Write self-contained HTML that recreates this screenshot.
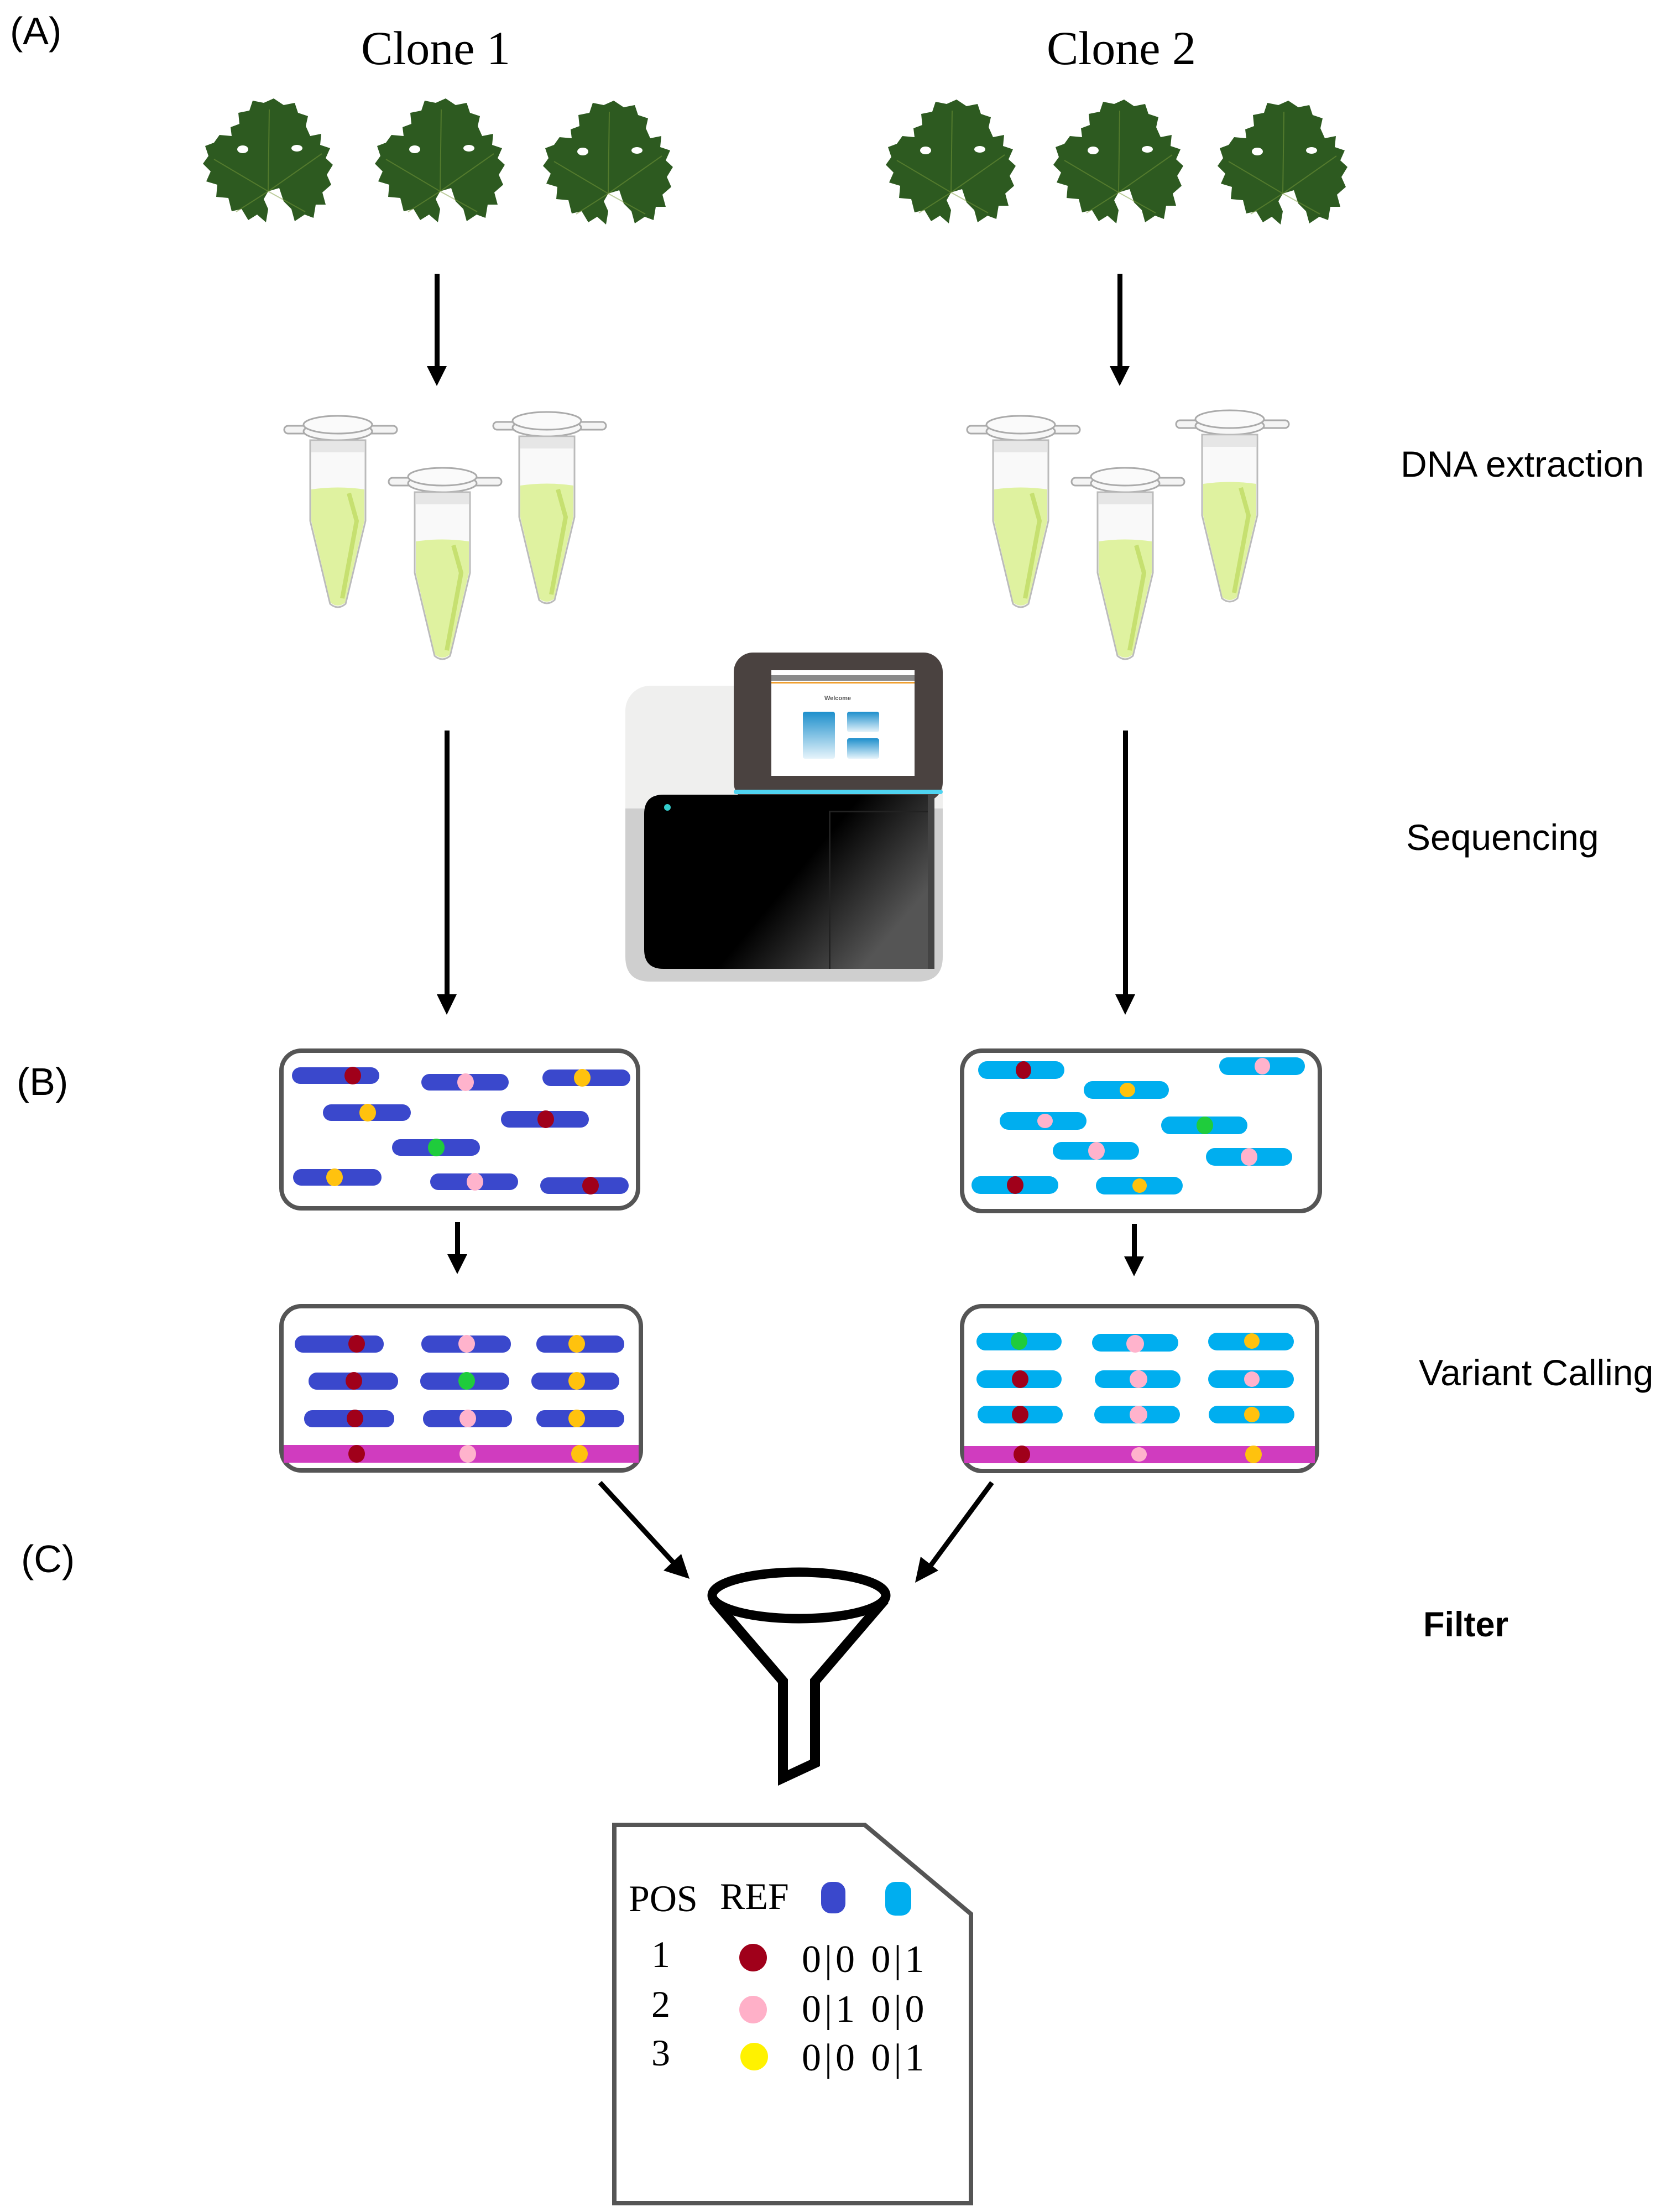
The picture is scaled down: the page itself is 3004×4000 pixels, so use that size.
<!DOCTYPE html>
<html><head><meta charset="utf-8"><style>
html,body{margin:0;padding:0;background:#fff;}
svg{display:block;}
.sans{font-family:"Liberation Sans",sans-serif;}
.serif{font-family:"Liberation Serif",serif;}
</style></head><body>
<svg width="3004" height="4000" viewBox="0 0 3004 4000" xmlns="http://www.w3.org/2000/svg">
<defs>
<g id="leaf">
<path d="M118,168 L138,162 L146,186 L160,200 L166,222 L184,210 L200,216 L204,192 L222,192 L216,170 L232,156 L224,138 L235,120 L222,108 L230,90 L212,84 L214,64 L194,68 L186,50 L190,32 L172,26 L166,8 L146,12 L128,0 L110,8 L90,4 L84,22 L64,26 L66,46 L50,52 L52,68 L30,66 L20,80 L4,86 L10,104 L0,118 L14,132 L6,150 L26,156 L24,178 L46,180 L52,204 L70,200 L82,220 L98,210 L114,224 L118,200 L110,182 Z" fill="#2d5a20"/>
<path d="M118,168 L120,20 M118,168 L20,110 M118,168 L215,100 M118,168 L60,205 M118,168 L185,205" stroke="#7a9a3a" stroke-width="2" fill="none" opacity="0.5"/>
<ellipse cx="72" cy="92" rx="10" ry="7" fill="#fff"/>
<ellipse cx="170" cy="90" rx="10" ry="6" fill="#fff"/>
</g>
<g id="tube">
<rect x="-97" y="18" width="204" height="14" rx="7" fill="#f4f4f4" stroke="#aaa" stroke-width="3"/>
<ellipse cx="0" cy="28" rx="62" ry="16" fill="#f7f7f7" stroke="#aaa" stroke-width="3"/>
<ellipse cx="0" cy="16" rx="62" ry="16" fill="#fafafa" stroke="#aaa" stroke-width="3"/>
<path d="M-50,44 L-50,190 L-14,340 Q0,352 14,340 L50,190 L50,44 Z" fill="#f9f9f9" stroke="#bbb" stroke-width="3"/>
<path d="M-48,133 Q0,126 48,133 L48,190 L13,338 Q0,348 -13,338 L-48,190 Z" fill="#dff2a0"/>
<path d="M20,140 L34,190 L8,330" stroke="#c6e070" stroke-width="8" fill="none"/>
<rect x="-48" y="46" width="96" height="20" fill="#e6e6e6"/>
</g>
</defs>

<text x="18" y="80" class="sans" font-size="70">(A)</text>
<text x="788" y="116" class="serif" font-size="86" text-anchor="middle">Clone 1</text>
<text x="2028" y="116" class="serif" font-size="86" text-anchor="middle">Clone 2</text>
<text x="2533" y="862" class="sans" font-size="66">DNA extraction</text>
<text x="2543" y="1537" class="sans" font-size="66">Sequencing</text>
<text x="2566" y="2505" class="sans" font-size="66">Variant Calling</text>
<text x="2574" y="2959" class="sans" font-size="63" font-weight="bold">Filter</text>
<text x="30" y="1980" class="sans" font-size="70">(B)</text>
<text x="38" y="2843" class="sans" font-size="70">(C)</text>

<use href="#leaf" transform="translate(367,178)"/>
<use href="#leaf" transform="translate(678,178)"/>
<use href="#leaf" transform="translate(982,182)"/>
<use href="#leaf" transform="translate(1602,180)"/>
<use href="#leaf" transform="translate(1905,180)"/>
<use href="#leaf" transform="translate(2202,182)"/>

<g fill="#000">
<rect x="786" y="495" width="9" height="170"/><polygon points="772,662 808,662 790,698"/>
<rect x="2021" y="495" width="9" height="170"/><polygon points="2007,662 2043,662 2025,698"/>
<rect x="804" y="1321" width="9" height="480"/><polygon points="790,1798 826,1798 808,1835"/>
<rect x="2031" y="1321" width="9" height="480"/><polygon points="2017,1798 2053,1798 2035,1835"/>
<rect x="823" y="2210" width="9" height="62"/><polygon points="809,2268 845,2268 827,2304"/>
<rect x="2047" y="2213" width="9" height="62"/><polygon points="2033,2272 2069,2272 2051,2308"/>
</g>

<use href="#tube" transform="translate(611,752)"/>
<use href="#tube" transform="translate(800,846)"/>
<use href="#tube" transform="translate(989,745)"/>
<use href="#tube" transform="translate(1846,752)"/>
<use href="#tube" transform="translate(2035,846)"/>
<use href="#tube" transform="translate(2224,742)"/>

<defs>
<linearGradient id="gloss" x1="0" y1="0" x2="1" y2="0.5">
<stop offset="0.6" stop-color="#000"/><stop offset="1" stop-color="#555"/></linearGradient>
<linearGradient id="tile" x1="0" y1="0" x2="0" y2="1">
<stop offset="0" stop-color="#1d8fcc"/><stop offset="1" stop-color="#e6f4fb"/></linearGradient>
</defs>
<rect x="1131" y="1240" width="574" height="535" rx="45" fill="#efefee"/>
<path d="M1131,1462 L1705,1462 L1705,1730 Q1705,1775 1660,1775 L1176,1775 Q1131,1775 1131,1730 Z" fill="#cfcfcf"/>
<rect x="1327" y="1180" width="378" height="270" rx="35" fill="#4a4240"/>
<rect x="1395" y="1212" width="259" height="191" fill="#fff"/>
<rect x="1395" y="1221" width="259" height="10" fill="#8a8a8a"/>
<rect x="1395" y="1233" width="259" height="3" fill="#f0a030"/>
<text x="1515" y="1266" class="sans" font-size="11" font-weight="bold" fill="#555" text-anchor="middle">Welcome</text>
<rect x="1452" y="1287" width="58" height="85" rx="4" fill="url(#tile)"/>
<rect x="1532" y="1287" width="58" height="37" rx="4" fill="url(#tile)"/>
<rect x="1532" y="1335" width="58" height="37" rx="4" fill="url(#tile)"/>
<rect x="1327" y="1428" width="378" height="8" rx="4" fill="#4fd3f0"/>
<path d="M1165,1437 L1690,1437 L1690,1752 L1200,1752 Q1165,1752 1165,1717 L1165,1472 Q1165,1437 1200,1437 Z" fill="url(#gloss)"/>
<rect x="1499" y="1468" width="3" height="284" fill="#222"/>
<rect x="1499" y="1466" width="188" height="3" fill="#222"/>
<rect x="1678" y="1437" width="12" height="315" fill="#444"/>
<circle cx="1207" cy="1460" r="6" fill="#3cc"/>

<g stroke="#555" stroke-width="8" fill="#fff">
<rect x="509" y="1900" width="645" height="285" rx="36"/>
<rect x="509" y="2362" width="650" height="297" rx="36"/>
<rect x="1740" y="1900" width="647" height="290" rx="36"/>
<rect x="1740" y="2362" width="642" height="298" rx="36"/>
</g>

<g transform="translate(509,1900)">
<g fill="#3a48cc">
<rect x="19" y="30" width="158" height="30" rx="15"/><rect x="253" y="42" width="158" height="30" rx="15"/>
<rect x="472" y="34" width="159" height="30" rx="15"/><rect x="75" y="97" width="159" height="30" rx="15"/>
<rect x="397" y="109" width="159" height="30" rx="15"/><rect x="200" y="160" width="159" height="30" rx="15"/>
<rect x="21" y="214" width="160" height="30" rx="15"/><rect x="269" y="222" width="159" height="30" rx="15"/>
<rect x="468" y="229" width="160" height="30" rx="15"/>
</g>
<ellipse cx="129" cy="45" rx="15" ry="16" fill="#a0001a"/><ellipse cx="333" cy="57" rx="15" ry="16" fill="#ffb3cc"/>
<ellipse cx="544" cy="49" rx="15" ry="16" fill="#ffc20e"/><ellipse cx="156" cy="112" rx="15" ry="16" fill="#ffc20e"/>
<ellipse cx="478" cy="124" rx="15" ry="16" fill="#a0001a"/><ellipse cx="280" cy="175" rx="15" ry="16" fill="#1fcc3c"/>
<ellipse cx="96" cy="229" rx="15" ry="16" fill="#ffc20e"/><ellipse cx="350" cy="237" rx="15" ry="16" fill="#ffb3cc"/>
<ellipse cx="559" cy="244" rx="15" ry="16" fill="#a0001a"/>
</g>

<g transform="translate(509,2362)">
<rect x="4" y="251" width="642" height="32" fill="#d03cbf"/>
<g fill="#3a48cc">
<rect x="24" y="53" width="161" height="31" rx="15"/><rect x="253" y="53" width="162" height="31" rx="15"/><rect x="461" y="53" width="159" height="31" rx="15"/>
<rect x="49" y="120" width="162" height="31" rx="15"/><rect x="251" y="120" width="161" height="31" rx="15"/><rect x="452" y="120" width="159" height="31" rx="15"/>
<rect x="41" y="188" width="163" height="31" rx="15"/><rect x="256" y="188" width="161" height="31" rx="15"/><rect x="461" y="188" width="159" height="31" rx="15"/>
</g>
<ellipse cx="136" cy="68" rx="15" ry="16" fill="#a0001a"/><ellipse cx="335" cy="68" rx="15" ry="16" fill="#ffb3cc"/><ellipse cx="534" cy="68" rx="15" ry="16" fill="#ffc20e"/>
<ellipse cx="131" cy="135" rx="15" ry="16" fill="#a0001a"/><ellipse cx="335" cy="135" rx="15" ry="16" fill="#1fcc3c"/><ellipse cx="534" cy="135" rx="15" ry="16" fill="#ffc20e"/>
<ellipse cx="133" cy="203" rx="15" ry="16" fill="#a0001a"/><ellipse cx="337" cy="203" rx="15" ry="16" fill="#ffb3cc"/><ellipse cx="534" cy="203" rx="15" ry="16" fill="#ffc20e"/>
<ellipse cx="136" cy="267" rx="15" ry="16" fill="#a0001a"/><ellipse cx="337" cy="267" rx="15" ry="16" fill="#ffb3cc"/><ellipse cx="539" cy="267" rx="15" ry="16" fill="#ffc20e"/>
</g>

<g transform="translate(1740,1900)">
<g fill="#00aeef">
<rect x="29" y="19" width="156" height="32" rx="16"/><rect x="220" y="55" width="154" height="32" rx="16"/>
<rect x="465" y="12" width="155" height="32" rx="16"/><rect x="68" y="111" width="157" height="32" rx="16"/>
<rect x="360" y="119" width="156" height="32" rx="16"/><rect x="164" y="165" width="156" height="32" rx="16"/>
<rect x="441" y="176" width="156" height="32" rx="16"/><rect x="17" y="227" width="157" height="32" rx="16"/>
<rect x="242" y="228" width="157" height="32" rx="16"/>
</g>
<ellipse cx="111" cy="35" rx="14" ry="16" fill="#a0001a"/><ellipse cx="299" cy="71" rx="14" ry="13" fill="#ffc20e"/>
<ellipse cx="543" cy="28" rx="14" ry="15" fill="#ffb3cc"/><ellipse cx="150" cy="127" rx="14" ry="13" fill="#ffb3cc"/>
<ellipse cx="439" cy="135" rx="15" ry="16" fill="#1fcc3c"/><ellipse cx="243" cy="181" rx="15" ry="16" fill="#ffb3cc"/>
<ellipse cx="519" cy="192" rx="15" ry="16" fill="#ffb3cc"/><ellipse cx="96" cy="243" rx="15" ry="16" fill="#a0001a"/>
<ellipse cx="321" cy="244" rx="13" ry="13" fill="#ffc20e"/>
</g>

<g transform="translate(1740,2362)">
<rect x="4" y="253" width="634" height="31" fill="#d03cbf"/>
<g fill="#00aeef">
<rect x="26" y="48" width="154" height="32" rx="16"/><rect x="235" y="50" width="156" height="32" rx="16"/><rect x="445" y="48" width="155" height="32" rx="16"/>
<rect x="26" y="116" width="154" height="32" rx="16"/><rect x="240" y="116" width="155" height="32" rx="16"/><rect x="445" y="116" width="155" height="32" rx="16"/>
<rect x="28" y="180" width="154" height="32" rx="16"/><rect x="239" y="180" width="155" height="32" rx="16"/><rect x="446" y="180" width="155" height="32" rx="16"/>
</g>
<ellipse cx="103" cy="63" rx="15" ry="16" fill="#1fcc3c"/><ellipse cx="313" cy="68" rx="16" ry="16" fill="#ffb3cc"/><ellipse cx="524" cy="63" rx="14" ry="14" fill="#ffc20e"/>
<ellipse cx="105" cy="132" rx="15" ry="16" fill="#a0001a"/><ellipse cx="319" cy="132" rx="16" ry="16" fill="#ffb3cc"/><ellipse cx="524" cy="132" rx="14" ry="14" fill="#ffb3cc"/>
<ellipse cx="105" cy="196" rx="15" ry="16" fill="#a0001a"/><ellipse cx="319" cy="196" rx="16" ry="16" fill="#ffb3cc"/><ellipse cx="524" cy="196" rx="14" ry="14" fill="#ffc20e"/>
<ellipse cx="108" cy="268" rx="15" ry="16" fill="#a0001a"/><ellipse cx="320" cy="268" rx="14" ry="13" fill="#ffb3cc"/><ellipse cx="527" cy="268" rx="15" ry="16" fill="#ffc20e"/>
</g>

<line x1="1085" y1="2681" x2="1222" y2="2830" stroke="#000" stroke-width="9"/>
<polygon points="1247,2855 1200,2840 1232,2810" fill="#000"/>
<line x1="1794" y1="2681" x2="1678" y2="2838" stroke="#000" stroke-width="9"/>
<polygon points="1655,2862 1665,2815 1697,2840" fill="#000"/>

<ellipse cx="1445" cy="2885" rx="157" ry="42" fill="none" stroke="#000" stroke-width="17"/>
<path d="M1290,2893 L1416,3040 L1416,3215 L1474,3188 L1474,3040 L1600,2893" fill="none" stroke="#000" stroke-width="18" stroke-linejoin="miter"/>

<path d="M1111,3300 L1564,3300 L1756,3461 L1756,3984 L1111,3984 Z" fill="#fff" stroke="#555" stroke-width="8"/>
<text x="1137" y="3456" class="serif" font-size="68">POS</text>
<text x="1302" y="3452" class="serif" font-size="68">REF</text>
<rect x="1485" y="3403" width="44" height="57" rx="18" fill="#3a48cc"/>
<rect x="1601" y="3403" width="47" height="61" rx="18" fill="#00aeef"/>
<text x="1195" y="3557" class="serif" font-size="68" text-anchor="middle">1</text>
<text x="1195" y="3647" class="serif" font-size="68" text-anchor="middle">2</text>
<text x="1195" y="3735" class="serif" font-size="68" text-anchor="middle">3</text>
<circle cx="1362" cy="3540" r="25" fill="#a0001a"/>
<circle cx="1362" cy="3634" r="25" fill="#ffb0c8"/>
<circle cx="1364" cy="3719" r="25" fill="#fff200"/>
<text x="1450" y="3566" class="serif" font-size="70" letter-spacing="6">0|0 0|1</text>
<text x="1450" y="3656" class="serif" font-size="70" letter-spacing="6">0|1 0|0</text>
<text x="1450" y="3744" class="serif" font-size="70" letter-spacing="6">0|0 0|1</text>
</svg>
</body></html>
